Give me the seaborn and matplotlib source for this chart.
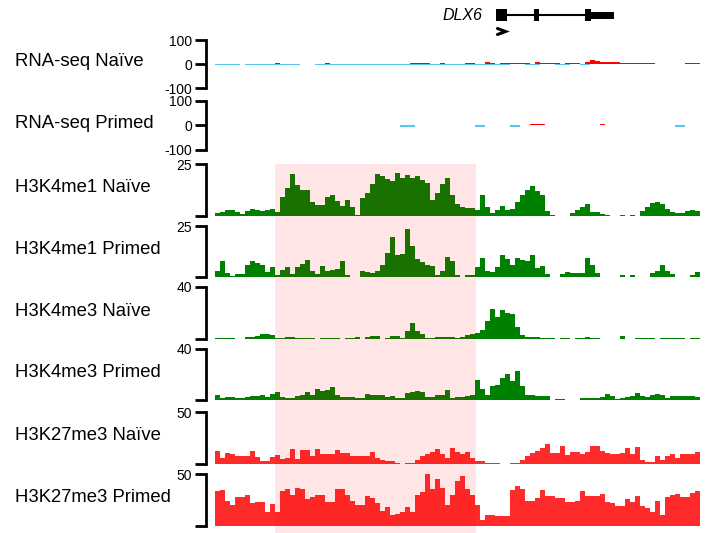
import numpy as np
import pandas as pd
import matplotlib
matplotlib.use("Agg")
import matplotlib.pyplot as plt
from matplotlib.patches import Rectangle
import seaborn as sns

sns.set_style("white")
plt.rcParams['font.family'] = ['Liberation Sans', 'DejaVu Sans']
plt.rcParams['axes.unicode_minus'] = False

# ---------------- data (bin-level signal, 97 bins) ----------------
track_labels = ["RNA-seq Naïve", "RNA-seq Primed", "H3K4me1 Naïve", "H3K4me1 Primed",
                "H3K4me3 Naïve", "H3K4me3 Primed", "H3K27me3 Naïve", "H3K27me3 Primed"]
track_max = [100, 100, 25, 25, 40, 40, 50, 50]

rna_naive_plus = [0, 0, 0, 0, 0, 0, 0, 0, 0, 0,
                  0, 0, 6, 0, 0, 0, 0, 0, 0, 0,
                  0, 0, 6, 0, 0, 0, 0, 0, 0, 0,
                  0, 0, 0, 0, 0, 0, 0, 0, 0, 6,
                  6, 6, 6, 0, 0, 6, 0, 0, 0, 0,
                  6, 6, 0, 0, 9, 6, 0, 6, 6, 6,
                  6, 6, 6, 0, 10, 6, 6, 6, 6, 0,
                  6, 6, 6, 0, 9, 15, 11, 9, 9, 9,
                  9, 6, 6, 6, 6, 6, 6, 6, 0, 0,
                  0, 0, 0, 0, 6, 6, 6]
rna_naive_minus = [-4, -4, -4, -5, -4, 0, -4, -4, -4, -4,
                   -4, -4, -4, -4, -4, -4, -4, 0, 0, 0,
                   -4, -4, -4, -4, -4, -4, -4, -4, -4, -4,
                   -4, -4, -4, -5, -5, -5, -5, -5, -5, -5,
                   -5, -4, -4, -4, -4, -4, -4, -6, -6, -6,
                   -6, -6, -6, -6, -6, -5, -5, -5, -5, 0,
                   0, 0, -4, -4, -4, 0, 0, 0, -4, -4,
                   -4, 0, 0, -5, -5, 0, 0, 0, 0, 0,
                   0, 0, 0, 0, 0, 0, 0, 0, 0, 0,
                   0, 0, 0, 0, 0, 0, 0]
rna_primed_plus = [0, 0, 0, 0, 0, 0, 0, 0, 0, 0,
                   0, 0, 0, 0, 0, 0, 0, 0, 0, 0,
                   0, 0, 0, 0, 0, 0, 0, 0, 0, 0,
                   0, 0, 0, 0, 0, 0, 0, 0, 0, 0,
                   0, 0, 0, 0, 0, 0, 0, 0, 0, 0,
                   0, 0, 0, 0, 0, 0, 0, 0, 4, 0,
                   4, 4, 0, 6, 8, 5, 0, 0, 0, 0,
                   0, 0, 0, 0, 0, 4, 4, 7, 4, 4,
                   0, 0, 0, 0, 0, 0, 0, 0, 0, 0,
                   0, 0, 0, 0, 0, 0, 0]
rna_primed_minus = [0, 0, 0, 0, 0, 0, 0, 0, 0, 0,
                    0, 0, 0, 0, 0, 0, 0, 0, 0, 0,
                    0, 0, 0, 0, 0, 0, 0, 0, 0, 0,
                    0, 0, 0, 0, 0, 0, 0, -5, -6, -5,
                    0, 0, 0, 0, 0, 0, 0, 0, 0, 0,
                    0, 0, -6, -6, 0, 0, 0, 0, 0, -6,
                    -5, 0, 0, 0, 0, 0, 0, 0, 0, 0,
                    0, 0, 0, 0, 0, 0, 0, 0, 0, 0,
                    0, 0, 0, 0, 0, 0, 0, 0, 0, 0,
                    0, 0, -6, -6, 0, 0, 0]

h3k4me1_naive = [1.5, 1.8, 2.7, 3, 1.7, 1, 2.3, 3.5, 3, 2.3,
                 3, 3.2, 1.7, 9.3, 13.5, 20, 15, 12.3, 12.7, 6.8,
                 5.5, 5.2, 9.3, 10.2, 7.3, 4.7, 7.7, 4.3, 0.5, 8.5,
                 11, 15.2, 20.2, 19.3, 17.7, 16.8, 20.7, 18.5, 19.7, 18.5,
                 19.3, 17.3, 16, 7.7, 11, 15.2, 18.5, 10.2, 6, 4.3,
                 4, 3.8, 2.7, 10.2, 4.3, 1.3, 2.7, 4.7, 2.7, 3.5,
                 6.8, 10.2, 12.7, 14.3, 11.8, 10.2, 2.3, 0.5, 0.2, 0.2,
                 0, 1.3, 3, 4.3, 6, 1.8, 1.7, 1, 0.7, 0,
                 0, 0.7, 0, 0.7, 0, 2.3, 4.3, 6.3, 6.8, 5.7,
                 3.5, 1.8, 1.3, 1.3, 2.3, 3, 2.2]
h3k4me1_primed = [3, 8, 2, 0.5, 1.3, 1.3, 6, 7.7, 7, 6,
                  2.5, 5, 1.2, 3.5, 5, 1.5, 5, 6.6, 8.5, 3,
                  1.7, 5.3, 3, 3.2, 4, 7.7, 1, 0, 0, 3,
                  2.5, 2, 3, 6, 12, 19.5, 11, 11.5, 23.5, 15,
                  9, 7.5, 6, 5.5, 1.2, 3, 10, 8, 1, 0,
                  1, 1, 5, 9.4, 3, 2.3, 5, 11, 9, 6,
                  9.4, 8.5, 8, 11, 4.5, 5.3, 1.3, 0, 0, 1.5,
                  2.5, 1.8, 1.8, 2, 9.4, 6, 2, 0, 0, 0,
                  0, 1, 0, 1.2, 0, 0, 0, 2, 3, 6,
                  3, 1.5, 0, 0, 0, 1, 2.5]
h3k4me3_naive = [0.8, 0.8, 0.8, 0.7, 0, 0, 1.5, 1.8, 2.3, 3.9,
                 3.5, 3.2, 0.8, 0.8, 1.8, 1.8, 0.5, 0.5, 0.5, 0.5,
                 0, 1, 1, 1, 1, 0, 0.6, 0.8, 1.8, 0,
                 1.5, 2.6, 2.6, 0, 0.5, 2.3, 2.3, 0.6, 6.5, 12,
                 6.5, 4, 0.8, 0.8, 1.8, 1.8, 1.8, 1.5, 1, 1.3,
                 3, 3.9, 4.5, 7, 14, 23, 17, 22, 20, 19,
                 9, 3, 1.3, 1.3, 1.3, 1, 1, 0.7, 0, 0.6,
                 0.6, 0, 0.8, 0.8, 1.2, 1, 0.8, 0, 0, 0.3,
                 0, 2.3, 0, 0, 0.5, 0.5, 0.8, 0.8, 0, 0.8,
                 0.8, 0.6, 0.8, 0.8, 0, 0.4, 0.4]
h3k4me3_primed = [3.6, 1.5, 2, 2.6, 1.3, 1.3, 2.5, 3, 3.5, 3.9,
                  2.6, 5, 6, 2.6, 1.8, 1.3, 3, 4, 6.2, 4,
                  8.8, 7, 7.5, 10, 3.6, 2.6, 2.6, 2.6, 1.8, 1.8,
                  4.7, 3.6, 3.6, 3.6, 2.6, 3.2, 1.8, 1.8, 5.2, 6.5,
                  7, 6, 2.6, 2.6, 4.2, 4.2, 7.8, 1.8, 2.6, 2.6,
                  3, 4, 16, 8.3, 4.2, 11, 12, 17.4, 20, 14.8,
                  22.6, 11, 4.2, 3.6, 3.5, 3, 3, 0, 1, 0.8,
                  0, 0, 0, 1.5, 1.3, 1.8, 1.5, 2.5, 4.7, 3.5,
                  0.8, 1.5, 2.6, 3, 5.7, 3, 2.3, 3.6, 4.7, 4.2,
                  1.8, 3, 3.2, 3, 3.5, 3, 2.5]
h3k27me3_naive = [12.6, 5.5, 11, 10, 7.6, 7.6, 7.6, 12.6, 7, 3,
                  3, 7, 8.3, 5, 6, 14.2, 5, 13.6, 13, 7.6,
                  14.2, 10, 10, 10, 13.6, 11, 10.5, 7.6, 7.6, 7.6,
                  7.6, 12, 6, 4, 2.6, 2.6, 1, 0, 0.7, 0.7,
                  4.3, 7.6, 9.3, 12, 14.2, 10, 6, 15, 12, 10,
                  12, 6, 3.3, 3, 1, 1, 0.8, 0, 0, 1,
                  1, 4.3, 8, 10.3, 12.6, 15, 19, 11, 11, 17.5,
                  8.3, 11.6, 11.6, 9.3, 12, 16.9, 16.9, 12.6, 11, 9.3,
                  9.3, 11, 15, 9.3, 15.9, 4.3, 2, 2, 7.6, 4.3,
                  8, 10, 6, 10, 10, 10, 12]
h3k27me3_primed = [34, 34.5, 24, 20, 28, 28, 30, 22, 23, 23,
                   13, 21, 13, 34, 36, 29.5, 37, 36, 26, 27.5,
                   29.7, 30, 23, 23, 36, 35.5, 30, 24, 20, 20,
                   29, 27, 22, 14, 18, 11, 12, 13, 18, 13,
                   30, 33, 50, 36, 45, 37, 20, 30, 43.6, 48.5,
                   36, 30, 20, 6, 11, 11, 10, 9.5, 9.5, 35,
                   38, 36, 24, 24, 27, 35, 29, 29, 27, 27,
                   23, 23, 24, 34, 29, 29, 29, 31, 23, 22,
                   19, 19, 26, 23, 29, 19, 17, 13, 24, 11,
                   28, 30, 31, 28, 28, 32, 34]

# gene model (bin units) and highlighted region
gene_name = "DLX6"
exon_starts = [56.2, 63.8, 74.0]
exon_ends = [58.4, 64.8, 75.2]
utr_start, utr_end = 75.2, 79.8
highlight_start, highlight_end = 12.0, 52.2

# ---------------- layout ----------------
W, H = 712, 533
fig = plt.figure(figsize=(W / 100, H / 100), dpi=100)
AX_L, AX_R = 206, 701
track_px = [(40, 88), (101, 150), (164, 216), (226, 277),
            (287, 339), (349, 400), (412, 464), (474, 526)]
n_bins = len(h3k4me1_naive)
edges = np.arange(n_bins + 1)
centers = edges[:-1] + 0.5
XLIM = (-1.8, 97.2)

GREEN = "#008000"
RED = "#ff2b2b"
RNA_RED = "#ff0000"
RNA_BLUE = "#55c6f2"


def make_ax(top, bottom):
    return fig.add_axes([AX_L / W, 1 - bottom / H, (AX_R - AX_L) / W, (bottom - top) / H])


def draw_hist(ax, vals, color):
    df = pd.DataFrame({"pos": centers, "signal": vals})
    sns.histplot(data=df, x="pos", weights="signal", bins=edges.tolist(), element="step",
                 fill=True, color=color, alpha=1, linewidth=0, ax=ax)


signals = [None, None, h3k4me1_naive, h3k4me1_primed, h3k4me3_naive,
           h3k4me3_primed, h3k27me3_naive, h3k27me3_primed]
colors = [None, None, GREEN, GREEN, GREEN, GREEN, RED, RED]

track_axes = []
for i, (top, bottom) in enumerate(track_px):
    ax = make_ax(top, bottom)
    ax.patch.set_alpha(0)
    if i == 0:
        draw_hist(ax, rna_naive_minus, RNA_BLUE)
        draw_hist(ax, rna_naive_plus, RNA_RED)
    elif i == 1:
        draw_hist(ax, rna_primed_minus, RNA_BLUE)
        draw_hist(ax, rna_primed_plus, RNA_RED)
    else:
        draw_hist(ax, signals[i], colors[i])
    m = track_max[i]
    ax.set_xlim(*XLIM)
    if i < 2:
        ax.set_ylim(-m, m)
        ax.set_yticks([-m, 0, m])
        ax.set_yticklabels([str(-m), "0", str(m)])
    else:
        ax.set_ylim(0, m)
        ax.set_yticks([0, m])
        ax.set_yticklabels(["", str(m)])
    ax.set_xticks([])
    ax.set_xlabel("")
    ax.set_ylabel("")
    for s in ["top", "right", "bottom"]:
        ax.spines[s].set_visible(False)
    ax.spines["left"].set_linewidth(2)
    ax.spines["left"].set_color("black")
    ax.tick_params(axis="y", left=True, direction="out", length=8, width=2,
                   labelsize=10, pad=2, colors="black")
    fig.text(15 / W, 1 - ((top + bottom) / 2 - 2) / H, track_labels[i],
             fontsize=13.3, va="center", ha="left", color="black")
    track_axes.append(ax)

# gene model axis
gax = make_ax(0, 40)
gax.set_xlim(*XLIM)
gax.set_ylim(40, 0)
gax.axis("off")
gax.plot([exon_starts[0], utr_end], [15, 15], color="black", lw=1.5,
         solid_capstyle="butt")
for s, e in zip(exon_starts, exon_ends):
    gax.add_patch(Rectangle((s, 9), e - s, 12, color="black", lw=0))
gax.add_patch(Rectangle((utr_start, 11.5), utr_end - utr_start, 7, color="black", lw=0))
gax.plot([exon_starts[0] + 0.3, exon_starts[0] + 1.9, exon_starts[0] + 0.3],
         [28.5, 31.5, 34.5], color="black", lw=2.2, solid_joinstyle="miter")
gax.text(exon_starts[0] - 2.8, 15, gene_name, fontsize=11.5, style="italic",
         ha="right", va="center", color="black")

# highlighted region overlay (spans H3K tracks down to figure bottom)
ref = track_axes[2]
x0_disp = ref.transData.transform((highlight_start, 0))[0]
x1_disp = ref.transData.transform((highlight_end, 0))[0]
fw = fig.bbox.width
top_frac = 1 - track_px[2][0] / H
fig.add_artist(Rectangle((x0_disp / fw, 0), (x1_disp - x0_disp) / fw, top_frac,
                         transform=fig.transFigure, color="red", alpha=0.1,
                         lw=0, zorder=10))

fig.savefig("out.png", dpi=100)
